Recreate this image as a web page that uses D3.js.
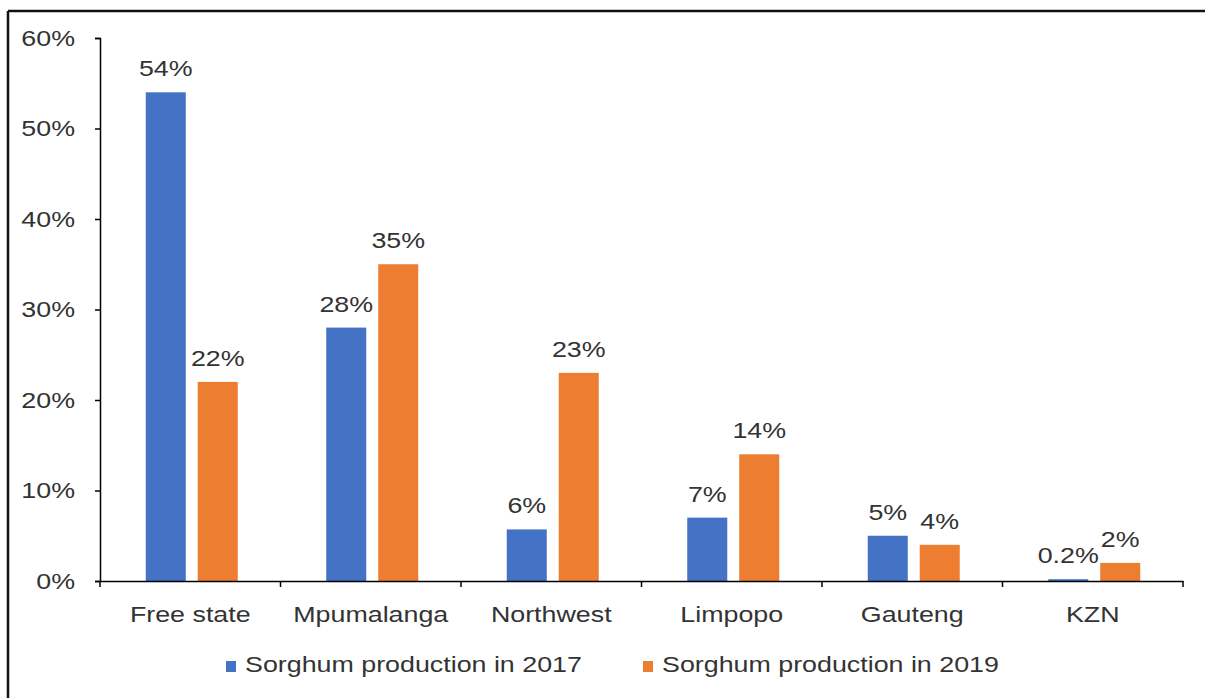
<!DOCTYPE html>
<html>
<head>
<meta charset="utf-8">
<script src="https://cdn.jsdelivr.net/npm/d3@7"></script>
<style>
  html, body { margin: 0; padding: 0; background: #fff; }
  svg { display: block; }
  text { font-family: "Liberation Sans", Arial, sans-serif; fill: #333; }
</style>
</head>
<body>
<svg id="chart" width="1205" height="698"></svg>
<script>
const categories = ["Free state", "Mpumalanga", "Northwest", "Limpopo", "Gauteng", "KZN"];
const seriesNames = ["Sorghum production in 2017", "Sorghum production in 2019"];
const values2017 = [54, 28, 5.7, 7, 5, 0.2];
const values2019 = [22, 35, 23, 14, 4, 2];
const labels2017 = ["54%", "28%", "6%", "7%", "5%", "0.2%"];
const labels2019 = ["22%", "35%", "23%", "14%", "4%", "2%"];
const yTicks = [0, 10, 20, 30, 40, 50, 60];
const colors = ["#4472C4", "#ED7D31"];

(function () {
const svg = d3.select("#chart");
const FS = "22px";
const SX = 1.22; // horizontal stretch of the reference's text

// frame (top and left visible)
svg.append("line").attr("x1", 8).attr("x2", 1205).attr("y1", 11).attr("y2", 11)
  .attr("stroke", "#111").attr("stroke-width", 2.5);
svg.append("line").attr("x1", 8).attr("x2", 8).attr("y1", 11).attr("y2", 698)
  .attr("stroke", "#111").attr("stroke-width", 2.5);

const mLeft = 100, mRight = 1183, mTop = 38, mBottom = 581;

const x0 = d3.scaleBand().domain(categories).range([mLeft, mRight]).padding(0);
const x1 = d3.scaleBand().domain(seriesNames).range([-44.5, 47.5]).paddingInner(0.23).paddingOuter(0);
const y = d3.scaleLinear().domain([0, 60]).range([mBottom, mTop]);

// y axis
const yAxis = d3.axisLeft(y).tickValues(yTicks).tickFormat(d => d + "%").tickSizeOuter(0).tickSize(5).tickPadding(15.5);
const gy = svg.append("g").attr("transform", `translate(${mLeft},0)`).call(yAxis);
gy.select(".domain").attr("stroke", "#000").attr("stroke-width", 1.5);
gy.selectAll(".tick line").attr("stroke", "#000").attr("stroke-width", 1.5);
gy.selectAll(".tick text").style("font-size", FS).attr("fill", "#333")
  .style("font-family", "'Liberation Sans', Arial, sans-serif")
  .attr("transform", `scale(${SX},1)`);

// bars
const data = categories.map((c, i) => ({
  cat: c,
  vals: [
    { s: seriesNames[0], v: values2017[i], label: labels2017[i], color: colors[0] },
    { s: seriesNames[1], v: values2019[i], label: labels2019[i], color: colors[1] }
  ]
}));

const groups = svg.append("g").selectAll("g").data(data).join("g")
  .attr("transform", d => `translate(${x0(d.cat) + x0.bandwidth() / 2},0)`);

groups.selectAll("rect").data(d => d.vals).join("rect")
  .attr("x", d => x1(d.s))
  .attr("width", x1.bandwidth())
  .attr("y", d => y(d.v))
  .attr("height", d => y(0) - y(d.v))
  .attr("fill", d => d.color);

groups.selectAll("text.lbl").data(d => d.vals).join("text")
  .attr("class", "lbl")
  .attr("transform", d => `translate(${x1(d.s) + x1.bandwidth() / 2},${y(d.v) - 16}) scale(${SX},1)`)
  .attr("text-anchor", "middle")
  .style("font-size", FS)
  .text(d => d.label);

// x axis
const xAxis = d3.axisBottom(x0).tickSize(0).tickSizeOuter(0).tickPadding(0);
const gx = svg.append("g").attr("transform", `translate(0,${mBottom})`).call(xAxis);
gx.select(".domain").attr("stroke", "#000").attr("stroke-width", 1.5);
gx.selectAll(".tick text").style("font-size", FS).attr("fill", "#333")
  .style("font-family", "'Liberation Sans', Arial, sans-serif")
  .attr("y", 41).attr("dy", 0)
  .attr("transform", `scale(${SX},1)`);
// boundary ticks
const bounds = categories.map(c => x0(c)).concat([mRight]);
svg.append("g").selectAll("line").data(bounds).join("line")
  .attr("x1", d => d).attr("x2", d => d)
  .attr("y1", mBottom).attr("y2", mBottom + 6)
  .attr("stroke", "#000").attr("stroke-width", 1.5);

// legend
const legendItems = [
  { name: seriesNames[0], color: colors[0], x: 226 },
  { name: seriesNames[1], color: colors[1], x: 643 }
];
const lg = svg.append("g").selectAll("g").data(legendItems).join("g")
  .attr("transform", d => `translate(${d.x},0)`);
lg.append("rect").attr("x", 0).attr("y", 661).attr("width", 10).attr("height", 11).attr("fill", d => d.color);
lg.append("text").attr("transform", `translate(19,672) scale(${SX},1)`).style("font-size", FS).text(d => d.name);
})();
</script>
</body>
</html>
